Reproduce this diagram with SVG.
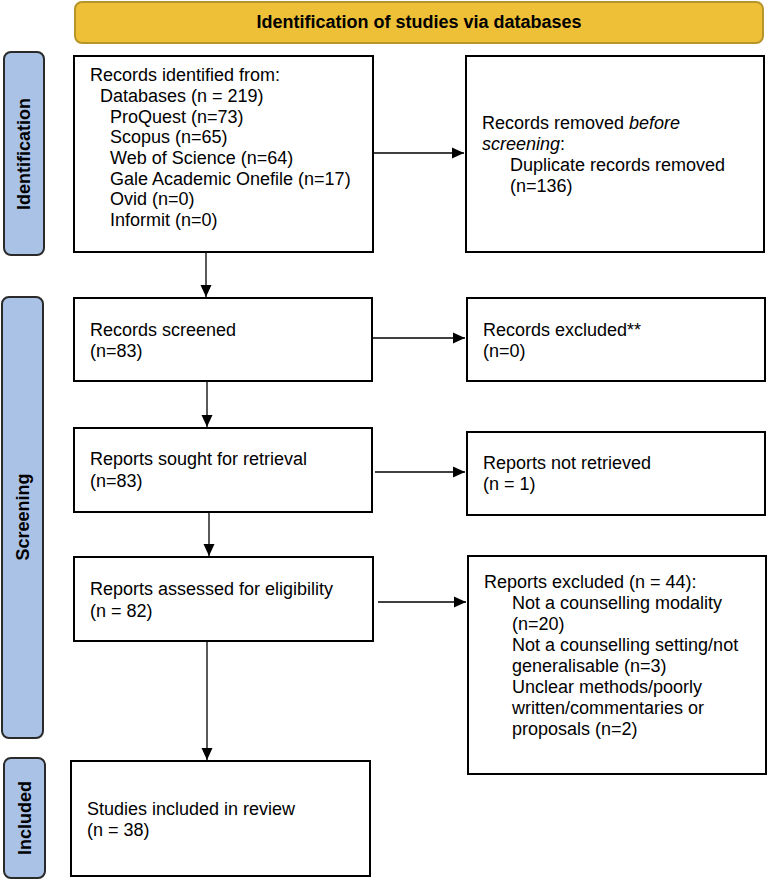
<svg xmlns="http://www.w3.org/2000/svg" width="768" height="881" viewBox="0 0 768 881">
<defs>
<style>
text{font-family:"Liberation Sans",Arial,sans-serif;font-size:18px;fill:#000}
.box{fill:#fff;stroke:#000;stroke-width:2}
.side{fill:#A9C2E6;stroke:#2a2a2a;stroke-width:2}
.hdr{fill:#EEC037;stroke:#B8952A;stroke-width:2}
.b{font-weight:bold}
.conn{stroke:#000;stroke-width:1.3;fill:none;marker-end:url(#ah)}
</style>
<marker id="ah" viewBox="0 0 12 12" refX="12" refY="6" markerWidth="12" markerHeight="12" markerUnits="userSpaceOnUse" orient="auto">
<path d="M0,0.5 L12,6 L0,11.5 z" fill="#000"/>
</marker>
</defs>
<rect width="768" height="881" fill="#fff"/>
<g id="header">
<rect class="hdr" x="75" y="2" width="688" height="41" rx="7"/>
<text class="b" x="419" y="28" text-anchor="middle">Identification of studies via databases</text>
</g>
<g id="side-identification">
<rect class="side" x="4" y="52" width="40" height="203" rx="7"/>
<text class="b" transform="translate(30,154) rotate(-90)" text-anchor="middle">Identification</text>
</g>
<g id="side-screening">
<rect class="side" x="2" y="297" width="41" height="441" rx="7"/>
<text class="b" transform="translate(29,517) rotate(-90)" text-anchor="middle">Screening</text>
</g>
<g id="side-included">
<rect class="side" x="4" y="758" width="41" height="120" rx="7"/>
<text class="b" transform="translate(31,818) rotate(-90)" text-anchor="middle">Included</text>
</g>
<g id="identified">
<rect class="box" x="74" y="56" width="299" height="196"/>
<text x="90" y="81">Records identified from:</text>
<text x="100" y="102">Databases (n = 219)</text>
<text x="110" y="123">ProQuest (n=73)</text>
<text x="110" y="143">Scopus (n=65)</text>
<text x="110" y="164">Web of Science (n=64)</text>
<text x="110" y="185">Gale Academic Onefile (n=17)</text>
<text x="110" y="205">Ovid (n=0)</text>
<text x="110" y="226">Informit (n=0)</text>
</g>
<g id="removed">
<rect class="box" x="466" y="56" width="298" height="196"/>
<text x="482" y="129">Records removed <tspan font-style="italic">before</tspan></text>
<text x="482" y="150"><tspan font-style="italic">screening</tspan>:</text>
<text x="510" y="171">Duplicate records removed</text>
<text x="510" y="192">(n=136)</text>
</g>
<g id="screened">
<rect class="box" x="74" y="298" width="298" height="83"/>
<text x="90" y="336">Records screened</text>
<text x="90" y="357">(n=83)</text>
</g>
<g id="excluded">
<rect class="box" x="467" y="298" width="298" height="83"/>
<text x="483" y="336">Records excluded**</text>
<text x="483" y="357">(n=0)</text>
</g>
<g id="sought">
<rect class="box" x="74" y="428" width="298" height="84"/>
<text x="90" y="465">Reports sought for retrieval</text>
<text x="90" y="487">(n=83)</text>
</g>
<g id="notretrieved">
<rect class="box" x="467" y="432" width="298" height="83"/>
<text x="483" y="469">Reports not retrieved</text>
<text x="483" y="490">(n = 1)</text>
</g>
<g id="assessed">
<rect class="box" x="74" y="557" width="299" height="84"/>
<text x="90" y="595">Reports assessed for eligibility</text>
<text x="90" y="617">(n = 82)</text>
</g>
<g id="reportsexcluded">
<rect class="box" x="468" y="556" width="298" height="218"/>
<text x="484" y="588">Reports excluded (n = 44):</text>
<text x="512" y="609">Not a counselling modality</text>
<text x="512" y="630">(n=20)</text>
<text x="512" y="651">Not a counselling setting/not</text>
<text x="512" y="672">generalisable (n=3)</text>
<text x="512" y="693">Unclear methods/poorly</text>
<text x="512" y="714">written/commentaries or</text>
<text x="512" y="735">proposals (n=2)</text>
</g>
<g id="included">
<rect class="box" x="71" y="761" width="299" height="115"/>
<text x="87" y="815">Studies included in review</text>
<text x="87" y="836">(n = 38)</text>
</g>
<g id="connectors">
<line class="conn" x1="373" y1="153" x2="464" y2="153"/>
<line class="conn" x1="206" y1="252" x2="206" y2="297"/>
<line class="conn" x1="372" y1="338" x2="465" y2="338"/>
<line class="conn" x1="207" y1="381" x2="207" y2="427"/>
<line class="conn" x1="375" y1="472" x2="465" y2="472"/>
<line class="conn" x1="209" y1="512" x2="209" y2="556"/>
<line class="conn" x1="378" y1="602" x2="466" y2="602"/>
<line class="conn" x1="207" y1="641" x2="207" y2="760"/>
</g>
</svg>
